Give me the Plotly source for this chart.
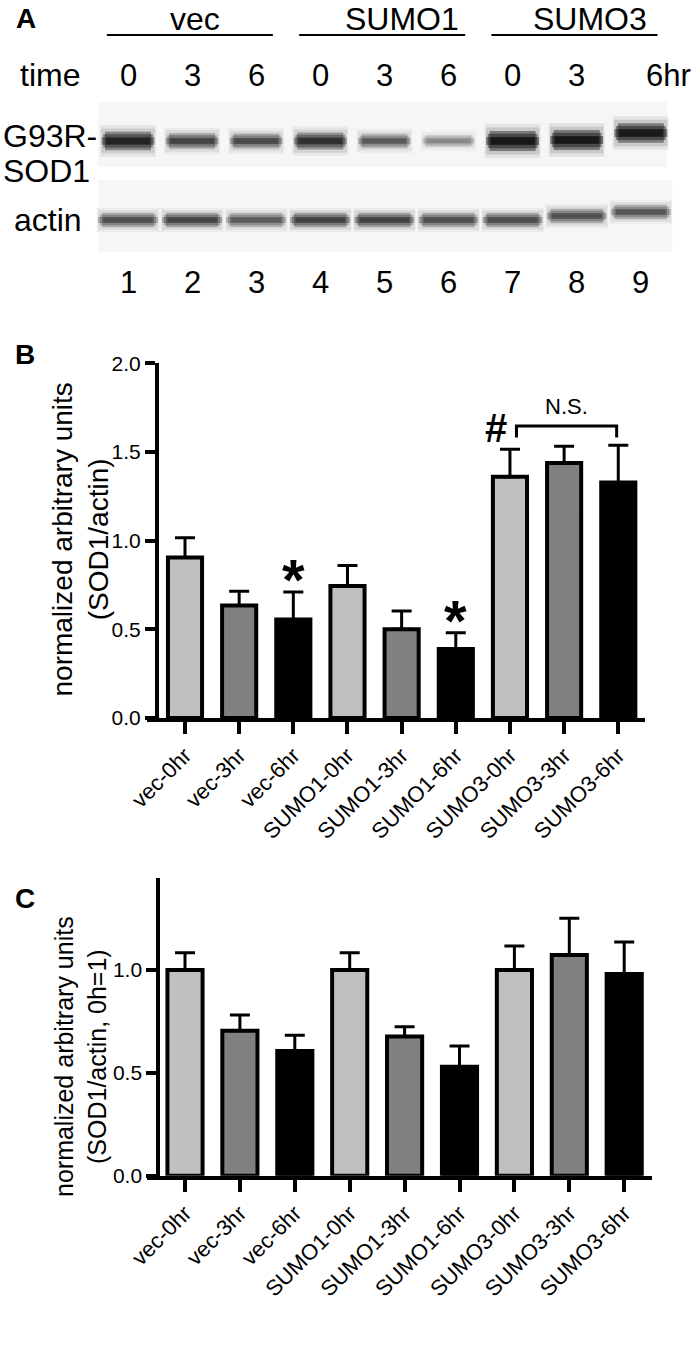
import plotly.graph_objects as go

# ---------------- DATA ----------------
# Panel A (western blot)
lanes = [1, 2, 3, 4, 5, 6, 7, 8, 9]
lane_times = ["0", "3", "6", "0", "3", "6", "0", "3", "6hr"]
groups = ["vec", "SUMO1", "SUMO3"]
group_first_lane = [1, 4, 7]
group_last_lane = [3, 6, 9]
sod1_band = [0.88, 0.62, 0.58, 0.75, 0.50, 0.30, 1.00, 1.00, 0.97]   # band darkness
actin_band = [0.55, 0.62, 0.50, 0.64, 0.64, 0.55, 0.58, 0.55, 0.52]  # band darkness

# Panels B and C
categories = ["vec-0hr", "vec-3hr", "vec-6hr", "SUMO1-0hr", "SUMO1-3hr",
              "SUMO1-6hr", "SUMO3-0hr", "SUMO3-3hr", "SUMO3-6hr"]
b_mean = [0.905, 0.635, 0.556, 0.744, 0.501, 0.389, 1.360, 1.438, 1.328]
b_err = [0.112, 0.080, 0.155, 0.116, 0.103, 0.091, 0.155, 0.094, 0.210]
b_sig = ["", "", "*", "", "", "*", "#", "", ""]
b_ns_from, b_ns_to = 6, 8
c_mean = [1.000, 0.705, 0.606, 1.000, 0.676, 0.530, 1.000, 1.073, 0.980]
c_err = [0.084, 0.076, 0.077, 0.084, 0.048, 0.100, 0.117, 0.178, 0.156]

# ---------------- STYLE ----------------
FONT = "Arial, 'Liberation Sans', sans-serif"
W, H = 696, 1349
fill_colors = ["#c0c0c0", "#808080", "#000000"] * 3
sod1_row_y, actin_row_y = 141, 220
sod1_tilt = [0, 0, 0, 0, 0, 0, 0, -1, -8]
actin_tilt = [0, 0, 0, 0, 0, 0, 0, -4, -8]
group_label_shift = [5, 20, 16]
idx = list(range(len(categories)))

fig = go.Figure()

# ---------- Panel A: blot bands (layered translucent bars give soft, rounded bands) ----------
# (height factor, width factor, alpha factor)
layers = [(1.9, 0.90, 0.07), (1.5, 0.86, 0.12), (1.1, 0.74, 0.40),
          (0.8, 0.80, 0.40), (0.45, 0.85, 0.40), (0.4, 0.70, 0.40)]
rows = [(sod1_band, sod1_row_y, sod1_tilt, 0.97, True),
        (actin_band, actin_row_y, actin_tilt, 1.1, False)]
for dark, row_y, tilt, w_scale, is_sod in rows:
    for hf, wf, af in layers:
        hs, bases, cols = [], [], []
        for d, t in zip(dark, tilt):
            h = (8 + 10 * d) if is_sod else 13
            hh = h * hf
            hs.append(hh)
            bases.append(row_y + t - hh / 2)
            cols.append(f"rgba(0,0,0,{min(1.0, af * d):.3f})")
        fig.add_trace(go.Bar(
            x=lanes, y=hs, base=bases, width=min(wf * w_scale, 0.98),
            marker=dict(color=cols, line=dict(width=0)),
            xaxis="x", yaxis="y", hoverinfo="skip", showlegend=False))

# ---------- Panel B ----------
fig.add_trace(go.Bar(
    x=idx, y=b_mean, xaxis="x2", yaxis="y2", width=0.63,
    marker=dict(color=fill_colors, line=dict(color="black", width=4)),
    error_y=dict(type="data", array=b_err, arrayminus=[0] * 9, symmetric=False,
                 thickness=3, width=10, color="black"),
    hoverinfo="skip", showlegend=False))

# N.S. bracket
b_tops = [m + e for m, e in zip(b_mean, b_err)]
br_top = max(b_tops[b_ns_from:b_ns_to + 1]) + 0.109
br_leg = br_top - 0.066
bx0, bx1 = b_ns_from + 0.12, b_ns_to - 0.03
fig.add_trace(go.Scatter(x=[bx0, bx0, bx1, bx1], y=[br_leg, br_top, br_top, br_leg],
                         xaxis="x2", yaxis="y2", mode="lines",
                         line=dict(color="black", width=3), hoverinfo="skip", showlegend=False))

# ---------- Panel C ----------
fig.add_trace(go.Bar(
    x=idx, y=c_mean, xaxis="x3", yaxis="y3", width=0.64,
    marker=dict(color=fill_colors, line=dict(color="black", width=4)),
    error_y=dict(type="data", array=c_err, arrayminus=[0] * 9, symmetric=False,
                 thickness=3, width=10, color="black"),
    hoverinfo="skip", showlegend=False))

# ---------- Annotations ----------
ann = []
def txt(text, x, y, size, xref="paper", yref="paper", xanchor="center", yanchor="middle",
        bold=False, angle=0, xshift=0, yshift=0, family=FONT):
    ann.append(dict(text=f"<b>{text}</b>" if bold else text, x=x, y=y, xref=xref, yref=yref,
                    xanchor=xanchor, yanchor=yanchor, showarrow=False, textangle=angle,
                    xshift=xshift, yshift=yshift,
                    font=dict(family=family, size=size, color="black")))

# Panel letters
txt("A", 25.6 / W, 1 - 18 / H, 28, bold=True)
txt("B", 25 / W, 1 - 355 / H, 28, bold=True)
txt("C", 25 / W, 1 - 898 / H, 28, bold=True)

# Blot labels
shapes = []
for g, a, b, s in zip(groups, group_first_lane, group_last_lane, group_label_shift):
    x0, x1 = a - 0.33, b + 0.26
    shapes.append(dict(type="line", xref="x", yref="y", x0=x0, x1=x1, y0=35, y1=35,
                       line=dict(color="black", width=2)))
    txt(g, (x0 + x1) / 2, 19, 32, xref="x", yref="y", xshift=s)
txt("time", 18 / W, 75, 32, yref="y", xanchor="left")
for ln, t in zip(lanes, lane_times):
    if t.endswith("hr"):
        txt(t, ln, 75, 31, xref="x", yref="y", xanchor="left", xshift=3)
    else:
        txt(t, ln, 75, 31, xref="x", yref="y")
    txt(str(ln), ln, 282.5, 31, xref="x", yref="y")
txt("G93R-", 1 / W, 136, 32, yref="y", xanchor="left")
txt("SOD1", 1 / W, 171, 32, yref="y", xanchor="left")
txt("actin", 12 / W, 220, 32, yref="y", xanchor="left")

# membrane strips
shapes.append(dict(type="rect", xref="x", yref="y", x0=0.53, x1=9.41, y0=101.7, y1=166.7,
                   fillcolor="#f6f6f6", line=dict(width=0), layer="below"))
shapes.append(dict(type="rect", xref="x", yref="y", x0=0.53, x1=9.49, y0=180, y1=251.7,
                   fillcolor="#f6f6f6", line=dict(width=0), layer="below"))

# Significance marks in B
for i, s in enumerate(b_sig):
    if s == "*":
        txt("*", i, b_tops[i], 58, xref="x2", yref="y2", yshift=12, bold=True)
    elif s == "#":
        txt("#", i, b_tops[i], 40, xref="x2", yref="y2", xshift=-14, yshift=21, bold=True)
txt("N.S.", (bx0 + bx1) / 2, br_top, 22, xref="x2", yref="y2", yanchor="bottom", yshift=5)

# Y titles
txt("normalized arbitrary units<br>(SOD1/actin)", 79.5 / W, 1 - 540 / H, 28, angle=-90)
txt("normalized arbitrary units<br>(SOD1/actin, 0h=1)", 80 / W, 1 - 1057 / H, 25, angle=-90)

# ---------- Axes ----------
def xcat(domain, rng, anchor):
    return dict(domain=domain, range=rng, anchor=anchor, automargin=False,
                tickmode="array", tickvals=idx, ticktext=categories,
                showline=True, linewidth=4, linecolor="black",
                ticks="outside", ticklen=12, tickwidth=4, tickcolor="black",
                tickangle=-45, tickfont=dict(family=FONT, size=22, color="black"),
                showgrid=False, zeroline=False, fixedrange=True)

def yval(domain, rng, pos, tickvals):
    return dict(domain=domain, range=rng, anchor="free", position=pos, automargin=False,
                showline=True, linewidth=4, linecolor="black",
                ticks="outside", ticklen=10, tickwidth=4, tickcolor="black",
                tickmode="array", tickvals=tickvals, ticktext=[f"{v:.1f}" for v in tickvals],
                tickfont=dict(family=FONT, size=21, color="black"),
                showgrid=False, zeroline=False, fixedrange=True)

fig.update_layout(
    template="none",
    width=W, height=H, autosize=False,
    margin=dict(l=0, r=0, t=0, b=0, pad=0, autoexpand=False),
    font=dict(family=FONT, color="black"),
    paper_bgcolor="white", plot_bgcolor="rgba(0,0,0,0)",
    barmode="overlay", showlegend=False,
    xaxis=dict(domain=[0, 1], range=[1 - 128 / 64.1, 1 + 568 / 64.1], visible=False,
               anchor="y", fixedrange=True, automargin=False),
    yaxis=dict(domain=[1 - 340 / H, 1], range=[340, 0], visible=False, anchor="x",
               fixedrange=True, automargin=False),
    xaxis2=xcat([147 / W, 645 / W], [(147 - 185) / 54.16, (645 - 185) / 54.16], "y2"),
    yaxis2=yval([(H - 718) / H, (H - 363.3) / H], [0, 2.0], 157 / W, [0, 0.5, 1.0, 1.5, 2.0]),
    xaxis3=xcat([147 / W, 651.7 / W], [(147 - 185) / 54.9, (651.7 - 185) / 54.9], "y3"),
    yaxis3=yval([(H - 1175.7) / H, (H - 878) / H], [0, 1.447], 158.3 / W, [0, 0.5, 1.0]),
    annotations=ann, shapes=shapes,
)

fig.write_html("out.html", config={"displayModeBar": False},
               post_script="document.body.style.margin='0';document.body.style.overflow='hidden';")
